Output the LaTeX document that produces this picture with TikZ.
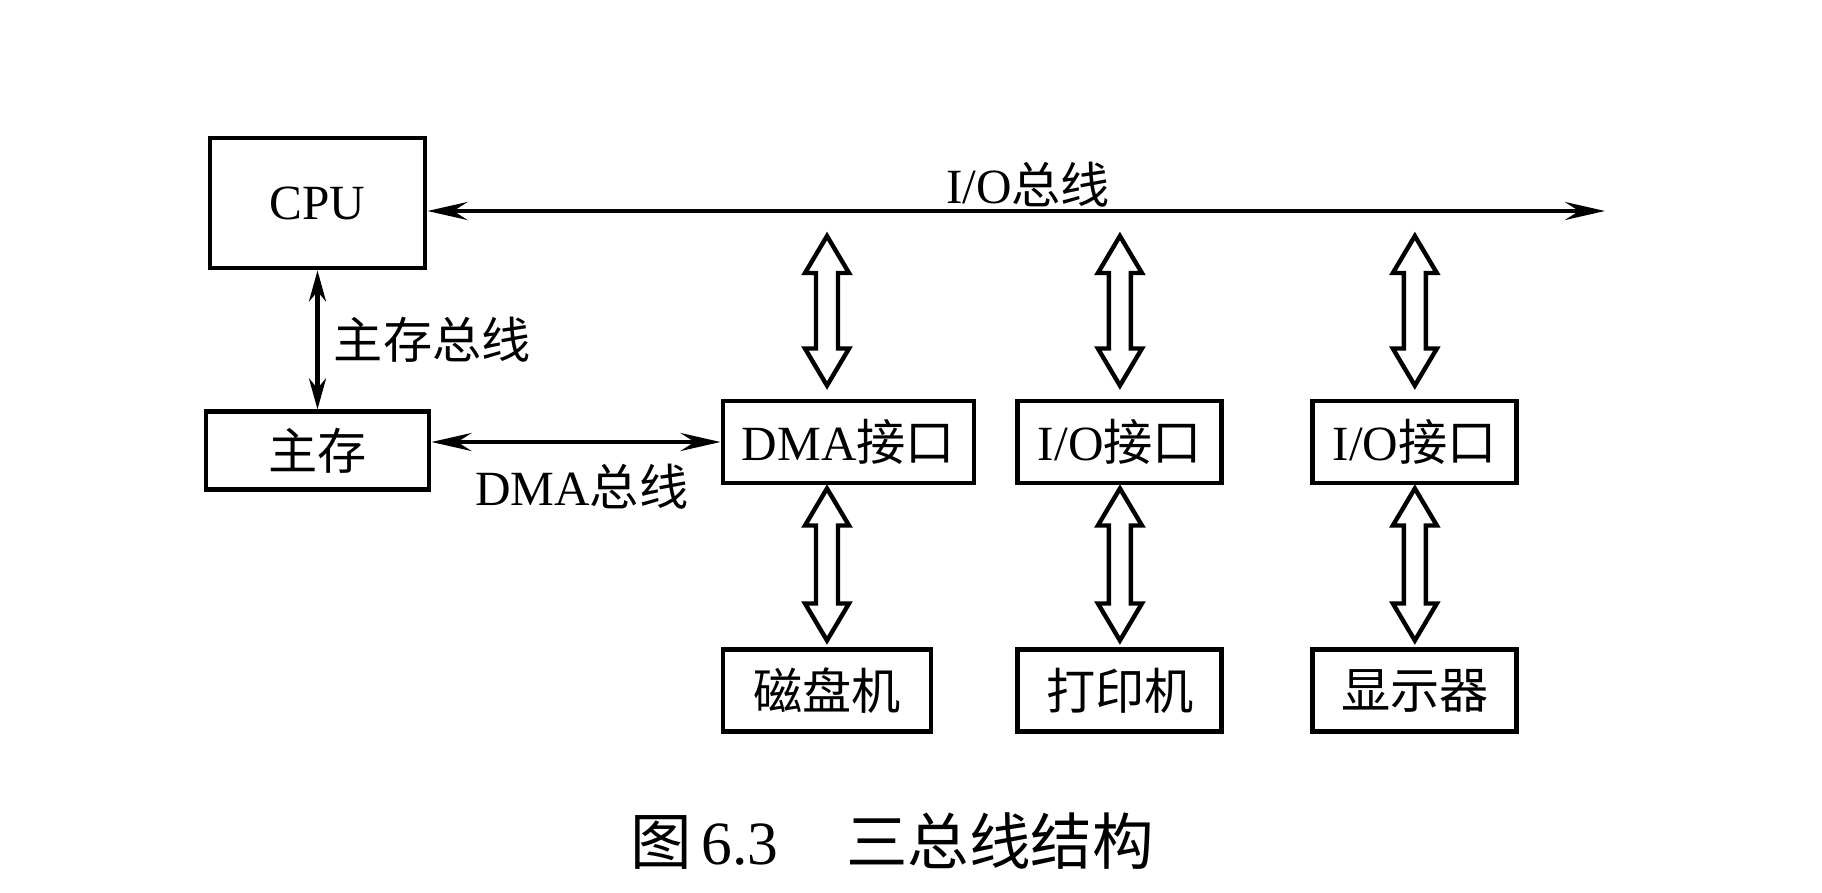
\documentclass[tikz,border=0pt]{standalone}
\usepackage{fontspec}
\setmainfont{Liberation Serif}
\newfontfamily\cjk{Noto Sans CJK SC}
\usetikzlibrary{arrows.meta,positioning,calc}

% hollow two-headed bus arrow, from a top point to a bottom point
\newcommand{\fatarrow}[2]{%
  \draw[fat] let \p1=(#1), \p2=(#2) in
    (\x1,\y1) -- ++(0.44,-0.74) -- ++(-0.22,0) -- (\x1+0.22cm,\y2+0.74cm)
    -- ++(0.22,0) -- (\x1,\y2) -- ++(-0.44,0.74) -- ++(0.22,0)
    -- (\x1-0.22cm,\y1-0.74cm) -- ++(-0.22,0) -- cycle;}

\begin{document}
\begin{tikzpicture}[
  x=1cm, y=1cm,
  box/.style={draw, line width=2.8pt, minimum height=1.64cm, inner sep=0pt,
              font=\fontsize{28}{30}\selectfont},
  lbl/.style={font=\fontsize{28}{30}\selectfont},
  bus/.style={{Stealth[length=0.8cm,width=0.36cm,inset=0.28cm]}-{Stealth[length=0.8cm,width=0.36cm,inset=0.28cm]},
              line width=2.6pt},
  membus/.style={{Stealth[length=0.62cm,width=0.34cm,inset=0.2cm]}-{Stealth[length=0.62cm,width=0.34cm,inset=0.2cm]},
              line width=2.6pt},
  fat/.style={line width=2.5pt, line join=miter}
]
\useasboundingbox (0,0) rectangle (36.44,-17.84);

\node[box, minimum width=4.3cm, minimum height=2.6cm] (cpu) at (6.35,-4.06) {CPU};
\node[box, minimum width=4.46cm, minimum height=1.56cm, below=2.78cm of cpu] (mem) {\cjk 主存};
\node[box, minimum width=5.02cm] (dmaif) at (16.97,-8.84) {DMA\cjk 接口};
\node[box, minimum width=4.08cm, right=0.78cm of dmaif] (ioif1) {I/O\cjk 接口};
\node[box, minimum width=4.08cm, right=1.72cm of ioif1] (ioif2) {I/O\cjk 接口};

\node[box, minimum width=4.16cm, below right=3.24cm and 0cm of dmaif.south west] (disk) {\cjk 磁盘机};
\node[box, minimum width=4.08cm, below=3.24cm of ioif1] (printer) {\cjk 打印机};
\node[box, minimum width=4.08cm, below=3.24cm of ioif2] (display) {\cjk 显示器};

\coordinate (busL) at ($(cpu.east)+(0,-0.16)$);
\coordinate (busR) at (32.1,-4.22);

\draw[bus] (busL) -- node[lbl, above, pos=0.51, inner sep=1pt] {I/O\cjk 总线} (busR);
\draw[membus] (cpu.south) -- node[lbl, right, inner sep=8pt] {\cjk 主存总线} (cpu.south |- mem.north);
\draw[bus] (mem.east |- dmaif.west) -- node[lbl, below, pos=0.52, inner sep=11pt] {DMA\cjk 总线} (dmaif.west);

\fatarrow{$(busL -| disk)+(0,-0.5)$}{$(dmaif.north -| disk)+(0,0.26)$}
\fatarrow{$(busL -| printer)+(0,-0.5)$}{$(ioif1.north)+(0,0.26)$}
\fatarrow{$(busL -| display)+(0,-0.5)$}{$(ioif2.north)+(0,0.26)$}
\fatarrow{$(dmaif.south -| disk)+(0,-0.06)$}{$(disk.north)+(0,0.14)$}
\fatarrow{$(ioif1.south)+(0,-0.06)$}{$(printer.north)+(0,0.14)$}
\fatarrow{$(ioif2.south)+(0,-0.06)$}{$(display.north)+(0,0.14)$}

\node[font=\fontsize{35}{38}\selectfont] (cap) at (17.84,-16.82) {{\cjk 图}\,6.3\hspace{1.1em}{\cjk 三总线结构}};
\end{tikzpicture}
\end{document}
